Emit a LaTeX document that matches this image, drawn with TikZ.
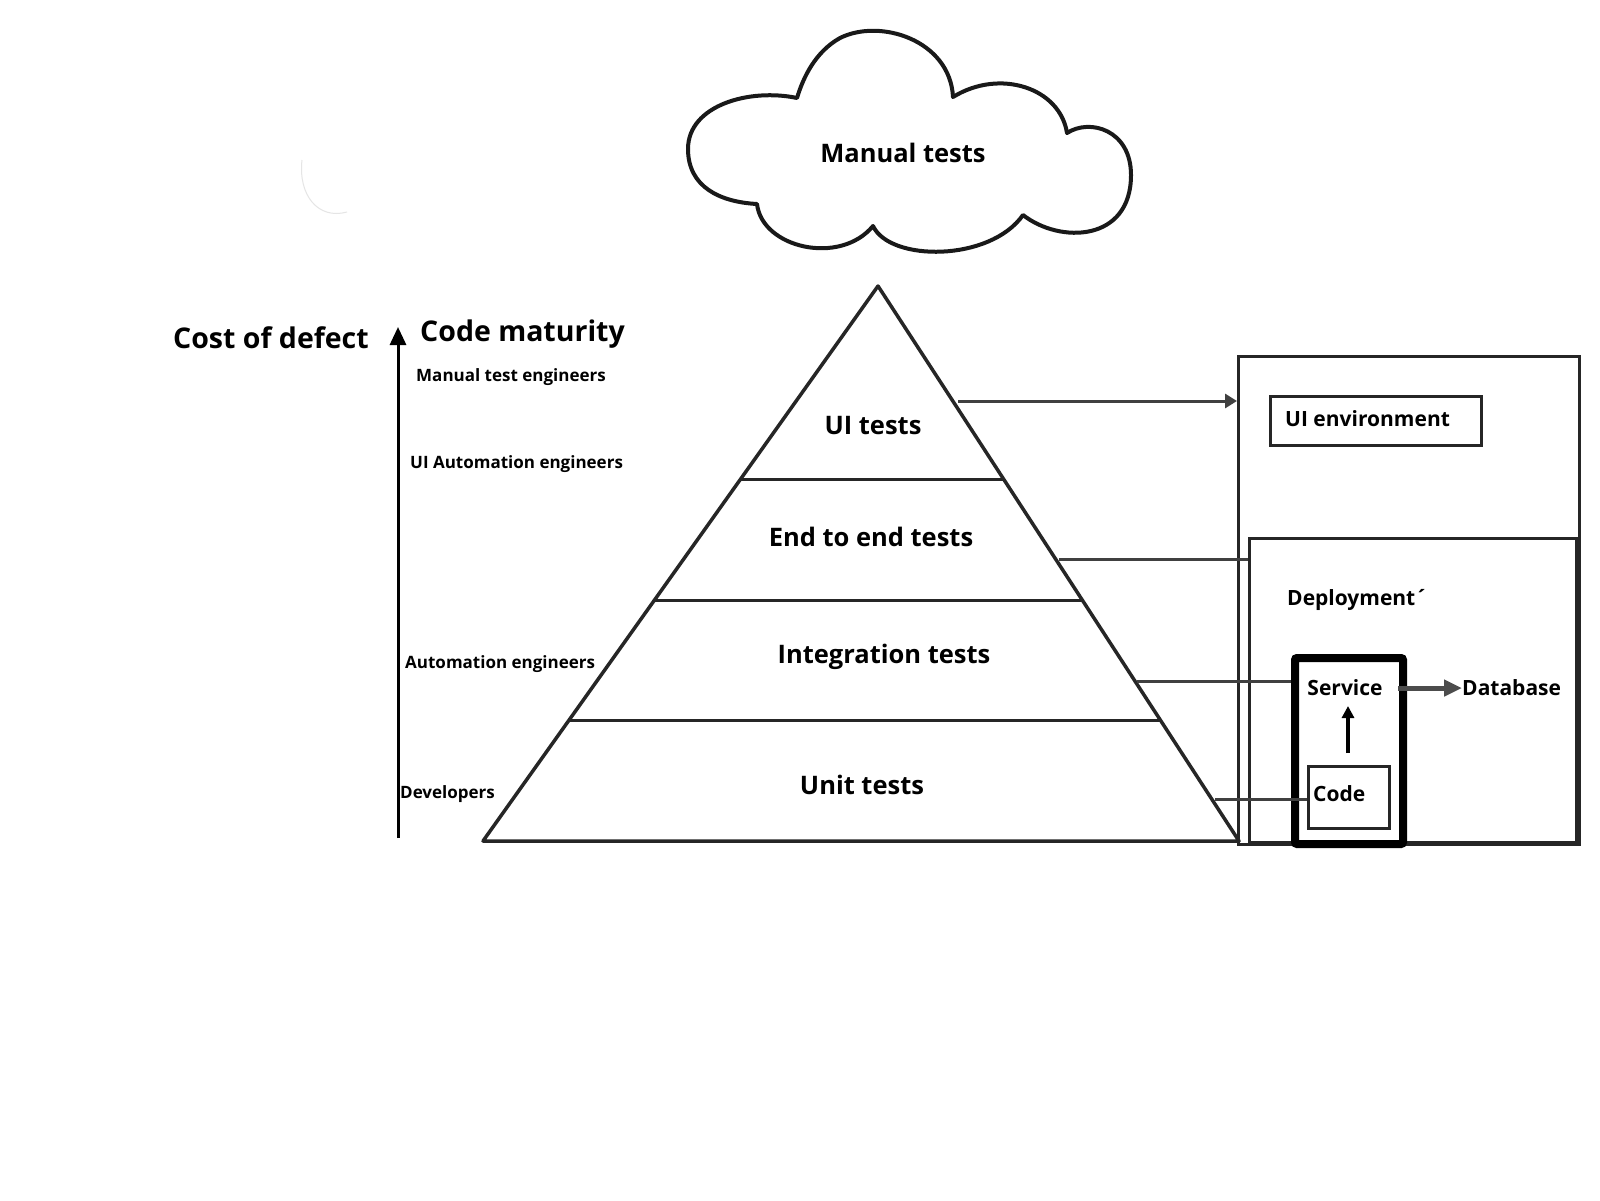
\documentclass[tikz,border=0pt]{standalone}
\usepackage{fontspec}
\setmainfont{Open Sans}
\usetikzlibrary{arrows.meta,calc}
\tikzset{
  big/.style={font=\fontsize{28.5}{32}\selectfont\bfseries, inner sep=0pt},
  role/.style={font=\fontsize{17}{20}\selectfont\bfseries, anchor=west, inner sep=0pt},
  layer/.style={font=\fontsize{25.5}{29}\selectfont\bfseries, inner sep=0pt},
  env/.style={font=\fontsize{21}{25}\selectfont\bfseries, inner sep=0pt},
  pyr/.style={line width=3.5pt, line join=round, black!85},
  box/.style={draw, line width=3pt, black!85, inner sep=0pt, anchor=north west},
  link/.style={line width=3pt, black!75},
}
\begin{document}
\begin{tikzpicture}[x=1pt,y=-1pt]
\useasboundingbox (0,0) rectangle (1600,1200);
\fill[white] (0,0) rectangle (1600,1200);

% faint stroke
\draw[gray!20, line width=1pt] (302,160) .. controls (298,195) and (318,220) .. (347,212);

% cloud
\draw[line width=4pt, line join=round, black!90]
  (797,98) .. controls (750,88) and (688,105) .. (688,149)
  .. controls (688,187) and (720,202) .. (757,204)
  .. controls (762,248) and (840,266) .. (873,226)
  .. controls (890,262) and (990,262) .. (1023,215)
  .. controls (1060,244) and (1131,242) .. (1131,175)
  .. controls (1131,130) and (1090,118) .. (1067,133)
  .. controls (1060,88) and (1000,68) .. (953,97)
  .. controls (950,40) and (880,18) .. (840,38)
  .. controls (815,52) and (803,78) .. (797,98) -- cycle;
\node[layer] (manual) at (903,153) {Manual tests};

% pyramid
\coordinate (apex) at (878,286);
\coordinate (bl) at (483,841);
\coordinate (br) at (1239,841);
\draw[pyr] (apex) -- (bl) -- (br) -- cycle;
\draw[pyr, line width=3pt] ($(apex)!0.3495!(bl)$) -- ($(apex)!0.3495!(br)$);
\draw[pyr, line width=3pt] ($(apex)!0.5658!(bl)$) -- ($(apex)!0.5658!(br)$);
\draw[pyr, line width=3pt] ($(apex)!0.782!(bl)$) -- ($(apex)!0.782!(br)$);
\node[layer] (ui) at (873,426) {UI tests};
\node[layer] (e2e) at (871,537) {End to end tests};
\node[layer] (integ) at (884,657) {Integration tests};
\node[layer] (unit) at (862,785) {Unit tests};

% axis
\coordinate (axbot) at (398,838);
\coordinate (axtop) at (398,327);
\draw[line width=3pt, -{Triangle[width=16pt,length=18pt]}] (axbot) -- (axtop);
\node[big, anchor=east] (cost) at (369,338) {Cost of defect};
\node[big, anchor=west] (mat) at (420,334) {Code maturity};
\node[role] (r1) at (416,377) {Manual test engineers};
\node[role] (r2) at (410,464) {UI Automation engineers};
\node[role] (r3) at (405,664) {Automation engineers};
\node[role] (r4) at (400,794) {Developers};

% environment boxes
\node[box, minimum width=341pt, minimum height=488pt] (outer) at (1237,355) {};
\node[box, minimum width=327pt, minimum height=304pt] (deploy) at (1248,537) {};
\node[box, minimum width=211pt, minimum height=49pt] (uienv) at (1269,395) {};
\node[env, anchor=west] (uienvt) at (1285,419) {UI environment};
\node[env, anchor=west] (dep) at (1287,600) {Deployment´};
\node[box, line width=8pt, black, rounded corners=2pt, minimum width=108pt, minimum height=186pt] (service) at (1291,654) {};
\node[box, minimum width=81pt, minimum height=62pt] (code) at (1307,765) {};
\node[env] (servt) at (1345,688) {Service};
\node[env, anchor=west] (db) at (1462,688) {Database};
\node[env, anchor=west] (codet) at (1313,794) {Code};

% connectors
\coordinate (p1) at (958,401);
\coordinate (p2) at (1059,559);
\coordinate (p3) at (1137,681);
\coordinate (p4) at (1215,799);
\draw[link, -{Triangle[width=14pt,length=12pt]}] (p1) -- (p1 -| outer.west);
\draw[link] (p2) -- (p2 -| deploy.west);
\draw[link] (p3) -- (p3 -| service.west);
\draw[link] (p4) -- (p4 -| code.west);
\draw[line width=5pt, black!70, -{Triangle[width=16pt,length=18pt]}] (1398,688) -- (db.west);
\draw[line width=4.5pt, -{Triangle[width=12pt,length=12pt]}] (1348,753) -- (1348,706);
\end{tikzpicture}
\end{document}
